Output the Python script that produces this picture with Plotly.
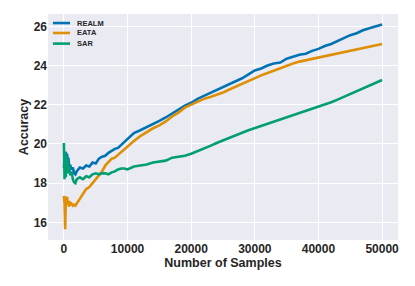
import plotly.graph_objects as go

samples = [0, 100, 200, 300, 400, 500, 600, 700, 800, 1000, 1200, 1400, 1600, 1800, 2000,
           2500, 3000, 3500, 4000, 4500, 5000, 5500, 6000, 6500, 7000, 7500, 8000, 8500, 9000, 9500, 10000,
           11000, 12000, 13000, 14000, 15000, 16000, 17000, 18000, 19000, 20000,
           21000, 22000, 23000, 24000, 25000, 26000, 27000, 28000, 29000, 30000,
           31000, 32000, 33000, 34000, 35000, 36000, 37000, 38000, 39000, 40000,
           41000, 42000, 43000, 44000, 45000, 46000, 47000, 48000, 49000, 50000]

realm = [18.8, 19.3, 19.0, 19.6, 19.2, 19.5, 19.0, 19.3, 18.9, 18.9, 18.7, 18.8, 18.5, 18.45, 18.6,
         18.8, 18.75, 18.9, 18.85, 19.05, 19.0, 19.25, 19.35, 19.4, 19.55, 19.65, 19.75, 19.8, 19.95, 20.1, 20.25,
         20.55, 20.7, 20.85, 21.0, 21.18, 21.35, 21.55, 21.75, 21.95, 22.1,
         22.3, 22.45, 22.6, 22.75, 22.9, 23.05, 23.2, 23.35, 23.55, 23.75,
         23.85, 24.0, 24.1, 24.15, 24.35, 24.45, 24.55, 24.6, 24.75, 24.85,
         25.0, 25.1, 25.25, 25.4, 25.55, 25.65, 25.8, 25.9, 26.0, 26.1]

eata = [17.35, 17.0, 15.65, 17.3, 17.2, 17.3, 16.9, 17.1, 16.8, 17.0, 16.95, 16.85, 16.9, 16.85, 16.95,
        17.2, 17.5, 17.7, 17.8, 18.0, 18.2, 18.35, 18.6, 18.9, 19.1, 19.25, 19.3, 19.45, 19.6, 19.75, 19.85,
        20.15, 20.4, 20.6, 20.8, 20.95, 21.15, 21.4, 21.6, 21.85, 22.0,
        22.15, 22.3, 22.4, 22.5, 22.62, 22.78, 22.93, 23.08, 23.22, 23.38,
        23.5, 23.62, 23.75, 23.88, 24.0, 24.1, 24.2, 24.27, 24.35, 24.4,
        24.48, 24.56, 24.62, 24.7, 24.76, 24.83, 24.9, 24.97, 25.03, 25.1]

sar = [20.05, 18.2, 19.6, 18.3, 19.4, 18.6, 19.2, 18.5, 18.9, 18.4, 18.6, 18.2, 18.05, 18.0, 18.2,
       18.3, 18.2, 18.35, 18.3, 18.45, 18.5, 18.45, 18.5, 18.5, 18.45, 18.55, 18.6, 18.7, 18.75, 18.75, 18.7,
       18.85, 18.9, 18.95, 19.05, 19.1, 19.15, 19.3, 19.35, 19.4, 19.5,
       19.62, 19.75, 19.9, 20.05, 20.19, 20.32, 20.45, 20.57, 20.7, 20.81,
       20.92, 21.04, 21.15, 21.26, 21.37, 21.47, 21.57, 21.68, 21.78, 21.88,
       22.0, 22.13, 22.26, 22.4, 22.55, 22.7, 22.85, 22.98, 23.12, 23.26]

x_ticks = [0, 10000, 20000, 30000, 40000, 50000]
y_ticks = [16, 18, 20, 22, 24, 26]

series = [("REALM", realm, "#0173b2"), ("EATA", eata, "#de8f05"), ("SAR", sar, "#029e73")]

fig = go.Figure()
for name, vals, color in series:
    fig.add_trace(go.Scatter(x=samples, y=vals, mode="lines", name=name,
                             line=dict(color=color, width=2.6), showlegend=False))

# compact legend (matplotlib style) in the upper-left corner of the plot area
legend_rows_y = [0.960, 0.916, 0.869]
for (name, vals, color), ly in zip(series, legend_rows_y):
    fig.add_shape(type="line", xref="paper", yref="paper", x0=0.014, x1=0.063, y0=ly, y1=ly,
                  line=dict(color=color, width=2.6))
    fig.add_annotation(xref="paper", yref="paper", x=0.076, y=ly, xanchor="left", yanchor="middle",
                       text=name, showarrow=False,
                       font=dict(size=7.5, weight="bold", color="#262626"))

font_family = "Liberation Sans, Arial, sans-serif"
fig.update_layout(
    width=407, height=278,
    margin=dict(l=40, r=17, t=6, b=46),
    paper_bgcolor="white", plot_bgcolor="#eaeaf2",
    font=dict(family=font_family, color="#262626"),
    showlegend=False,
)
fig.update_xaxes(range=[-2500, 52500], tickvals=x_ticks,
                 ticktext=[str(v) for v in x_ticks],
                 showgrid=True, gridcolor="white", gridwidth=1.2, zeroline=False,
                 tickfont=dict(size=12, weight="bold"), ticks="", showline=False, automargin=False,
                 title=dict(text="Number of Samples", font=dict(size=12.5, weight="bold"), standoff=2))
fig.update_yaxes(range=[15.1, 26.63], tickvals=y_ticks,
                 showgrid=True, gridcolor="white", gridwidth=1.2, zeroline=False,
                 tickfont=dict(size=12, weight="bold"), ticks="", showline=False, automargin=False,
                 title=dict(text="Accuracy", font=dict(size=12.5, weight="bold"), standoff=2))

fig.write_html("out.html")
